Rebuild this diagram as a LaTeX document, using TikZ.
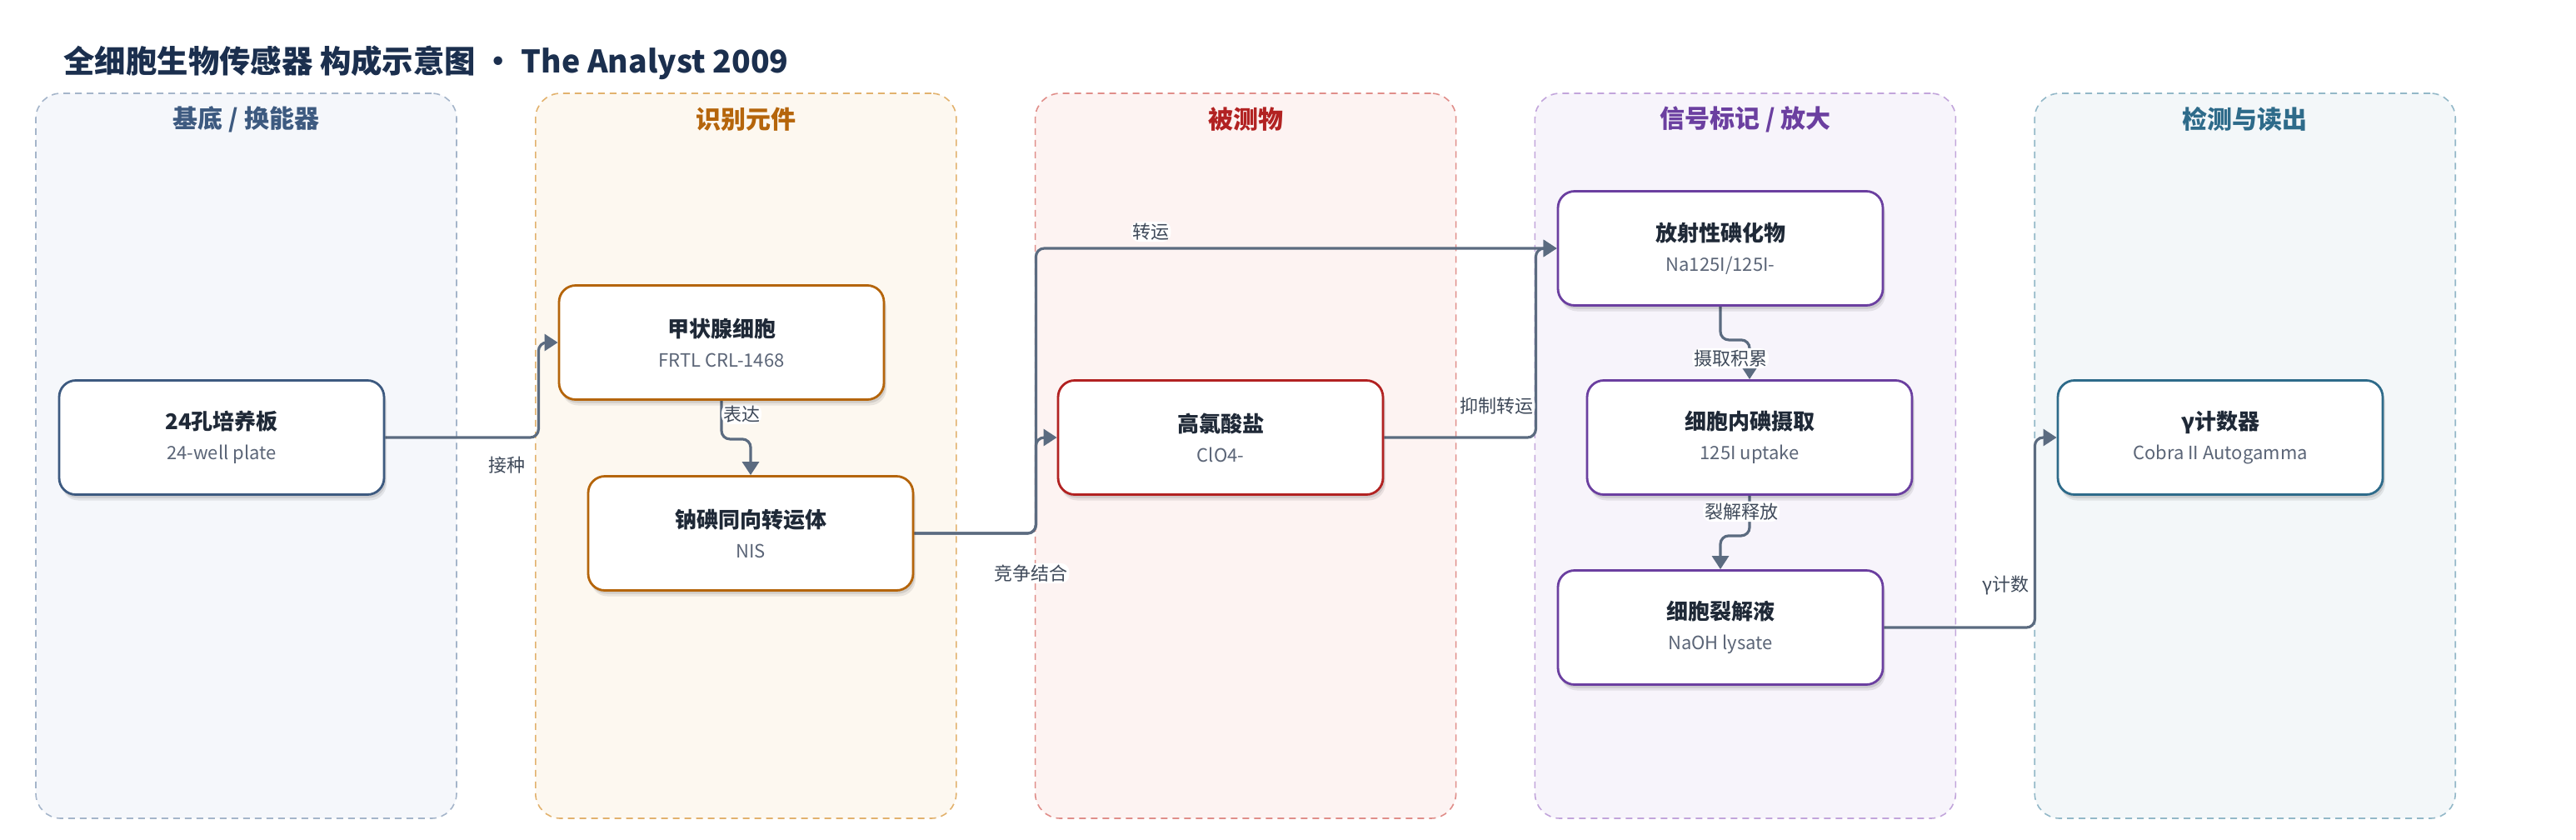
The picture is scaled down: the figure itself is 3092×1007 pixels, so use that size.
\documentclass[tikz,border=0pt]{standalone}
\usepackage{fontspec}
\setmainfont{Noto Sans CJK SC}
\usepackage{tikz}
\usetikzlibrary{positioning, arrows.meta, shadows, backgrounds}
\usepackage{color}

\definecolor{titleink}{HTML}{1B2F4E}
\definecolor{nodeink}{HTML}{1F2937}
\definecolor{subgray}{HTML}{5B6577}
\definecolor{lblink}{HTML}{3F4A5A}
\definecolor{edgegray}{HTML}{5B6B80}
\definecolor{inkblue}{HTML}{3D5A80}
\definecolor{inkorange}{HTML}{B5650B}
\definecolor{inkred}{HTML}{B22222}
\definecolor{inkpurple}{HTML}{6B3FA0}
\definecolor{inkteal}{HTML}{2E6B8A}
\definecolor{fillblue}{HTML}{F5F7FB}
\definecolor{lineblue}{HTML}{A5B5CA}
\definecolor{fillorange}{HTML}{FDF8F0}
\definecolor{lineorange}{HTML}{E2B26E}
\definecolor{fillred}{HTML}{FDF3F2}
\definecolor{linered}{HTML}{E08E8A}
\definecolor{fillpurple}{HTML}{F7F4FB}
\definecolor{linepurple}{HTML}{C2A5DB}
\definecolor{fillteal}{HTML}{F3F7F9}
\definecolor{lineteal}{HTML}{93B8C8}

\begin{document}
\begin{tikzpicture}[x=0.5pt, y=-0.5pt, >={Triangle[length=8pt, width=10pt]}]
    \tikzstyle{panel} = [rounded corners=15pt, line width=0.8pt, dash pattern=on 4pt off 3pt, minimum width=252.5pt, minimum height=435pt, inner sep=0pt]
    \tikzstyle{ptitle} = [font=\fontsize{15}{18}\selectfont\bfseries]
    \tikzstyle{format} = [draw, line width=1.4pt, rounded corners=10pt, fill=white, minimum width=195pt, minimum height=68.5pt, align=center, font=\fontsize{13}{17}\selectfont, text=nodeink,
        drop shadow={shadow xshift=1.5pt, shadow yshift=-3.5pt, opacity=0.08, fill=black},
        drop shadow={shadow xshift=1pt, shadow yshift=-2pt, opacity=0.10, fill=black}]
    \tikzstyle{lbl} = [fill=white, inner sep=1pt, font=\fontsize{11}{13}\selectfont, text=lblink]
    \tikzset{link/.style = {draw=edgegray, line width=1.6pt, ->, rounded corners=5pt}}

    \useasboundingbox (0,0) rectangle (3092,1007);

    % Title
    \node[anchor=west, inner sep=0pt, font=\fontsize{18.7}{22}\selectfont\bfseries, text=titleink] (title) at (76,75) {全细胞生物传感器 构成示意图 • The Analyst 2009};

    % Columns
    \begin{scope}[on background layer]
        \node[panel, draw=lineblue, fill=fillblue] (base) at (295.5,547) {};
        \node[panel, draw=lineorange, fill=fillorange, right=46.6pt of base] (recog) {};
        \node[panel, draw=linered, fill=fillred, right=46.6pt of recog] (analyte) {};
        \node[panel, draw=linepurple, fill=fillpurple, right=46.6pt of analyte] (signal) {};
        \node[panel, draw=lineteal, fill=fillteal, right=46.6pt of signal] (readout) {};
    \end{scope}

    \node[ptitle, text=inkblue] at ([yshift=-16pt]base.north) {基底 / 换能器};
    \node[ptitle, text=inkorange] at ([yshift=-16pt]recog.north) {识别元件};
    \node[ptitle, text=inkred] at ([yshift=-16pt]analyte.north) {被测物};
    \node[ptitle, text=inkpurple] at ([yshift=-16pt]signal.north) {信号标记 / 放大};
    \node[ptitle, text=inkteal] at ([yshift=-16pt]readout.north) {检测与读出};

    % Boxes
    \node[format, draw=inkblue] (plate) at (266,525) {\textbf{24孔培养板}\\[1pt]{\color{subgray}\fontsize{11}{14}\selectfont 24-well plate}};
    \node[format, draw=inkorange] (thyroid) at (866,411) {\textbf{甲状腺细胞}\\[1pt]{\color{subgray}\fontsize{11}{14}\selectfont FRTL CRL-1468}};
    \node[format, draw=inkorange] (nis) at (901,640) {\textbf{钠碘同向转运体}\\[1pt]{\color{subgray}\fontsize{11}{14}\selectfont NIS}};
    \node[format, draw=inkred] (clo) at (1465,525) {\textbf{高氯酸盐}\\[1pt]{\color{subgray}\fontsize{11}{14}\selectfont ClO4-}};
    \node[format, draw=inkpurple] (radio) at (2065,298) {\textbf{放射性碘化物}\\[1pt]{\color{subgray}\fontsize{11}{14}\selectfont Na125I/125I-}};
    \node[format, draw=inkpurple] (uptake) at (2100,525) {\textbf{细胞内碘摄取}\\[1pt]{\color{subgray}\fontsize{11}{14}\selectfont 125I uptake}};
    \node[format, draw=inkpurple] (lysate) at (2065,753) {\textbf{细胞裂解液}\\[1pt]{\color{subgray}\fontsize{11}{14}\selectfont NaOH lysate}};
    \node[format, draw=inkteal] (gamma) at (2665,525) {\textbf{γ计数器}\\[1pt]{\color{subgray}\fontsize{11}{14}\selectfont Cobra II Autogamma}};

    % Connectors
    \begin{scope}[on background layer]
        \path[link] (plate.east) -- ++(184,0) node[lbl, xshift=-19pt, yshift=-16.5pt] {接种} |- (thyroid.west);
        \path[link] (thyroid.south) node[lbl, xshift=12pt, yshift=-8pt] {表达} -- ++(0,46) -| (nis.north);
        \path[link] (nis.east) -- ++(146,0) node[lbl, xshift=-3pt, yshift=-24pt] {竞争结合} |- (clo.west);
        \path[link] (nis.east) -- ++(146,0) -- ++(0,-342) node[lbl, xshift=69pt, yshift=10pt] {转运} -- (radio.west);
        \path[link] (clo.east) -- ++(182,0) node[lbl, xshift=-23.5pt, yshift=19pt] {抑制转运} |- (radio.west);
        \path[link] (radio.south) -- ++(0,40) -| (uptake.north) node[lbl, xshift=-11.5pt, yshift=12.5pt] {摄取积累};
        \path[link] (uptake.south) node[lbl, xshift=-5pt, yshift=-9.5pt] {裂解释放} -- ++(0,48) -| (lysate.north);
        \path[link] (lysate.east) -- ++(181,0) node[lbl, xshift=-17.5pt, yshift=25.5pt] {γ计数} |- (gamma.west);
    \end{scope}
\end{tikzpicture}
\end{document}
